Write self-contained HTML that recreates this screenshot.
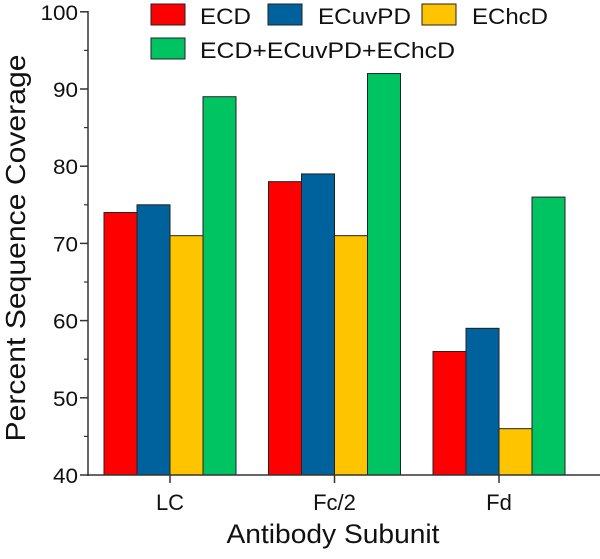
<!DOCTYPE html>
<html><head><meta charset="utf-8"><style>
body{margin:0;background:#fff;}
svg text{font-family:"Liberation Sans",sans-serif;fill:#111;}
</style></head><body>
<svg id="c" width="600" height="554"></svg>
<script>
const categories=["LC","Fc/2","Fd"];
const seriesNames=["ECD","ECuvPD","EChcD","ECD+ECuvPD+EChcD"];
const ecd=[74,78,56];
const ecuvpd=[75,79,59];
const echcd=[71,71,46];
const combined=[89,92,76];
const yTicks=[40,50,60,70,80,90,100];
const colors=["#ff0000","#00629c","#ffc400","#00c462"];
const series=[ecd,ecuvpd,echcd,combined];
const NS="http://www.w3.org/2000/svg";
const svg=document.getElementById("c");
function y(v){return 475-(v-40)*7.72;}
function xc(i){return 170+i*164.5;}
function mk(t,a,p){const e=document.createElementNS(NS,t);for(const k in a)e.setAttribute(k,a[k]);(p||svg).appendChild(e);return e;}
series.forEach((s,si)=>{s.forEach((v,ci)=>{
 const r=mk("rect",{x:xc(ci)-66+si*33,y:y(v),width:33,height:475-y(v),fill:colors[si],stroke:"#222","stroke-width":1});
 
 
});});
let ax=mk("line",{x1:88,y1:475,x2:600,y2:475,stroke:"#333","stroke-width":1.5});

ax=mk("line",{x1:88,y1:11,x2:88,y2:476,stroke:"#333","stroke-width":1.5});

yTicks.forEach((v,i)=>{
 mk("line",{x1:80,y1:y(v),x2:88,y2:y(v),stroke:"#333","stroke-width":1.5});
 if(i<yTicks.length-1)mk("line",{x1:84,y1:y(v+5),x2:88,y2:y(v+5),stroke:"#333","stroke-width":1.2});
 const s=String(v);
 const t=mk("text",{x:78,y:y(v)+8,"text-anchor":"end","font-size":21,textLength:s.length*12.5,lengthAdjust:"spacingAndGlyphs"});t.textContent=s;
 
});
categories.forEach((c,i)=>{
 mk("line",{x1:xc(i),y1:475,x2:xc(i),y2:483,stroke:"#333","stroke-width":1.5});
 const t=mk("text",{x:xc(i),y:510,"text-anchor":"middle","font-size":22});t.textContent=c;
 
});
let t=mk("text",{x:333,y:543,"text-anchor":"middle","font-size":27,textLength:213,lengthAdjust:"spacingAndGlyphs"});t.textContent="Antibody Subunit";

t=mk("text",{x:0,y:0,"text-anchor":"middle","font-size":28,textLength:387,lengthAdjust:"spacingAndGlyphs",transform:"translate(25,248) rotate(-90)"});t.textContent="Percent Sequence Coverage";

const leg=[[151,4],[268,4],[422,4],[151,38]];
const tx=[200,318,472,200];
const tl=[51,93,76,255];
seriesNames.forEach((n,i)=>{
 const g=mk("g",{});
 
 mk("rect",{x:leg[i][0],y:leg[i][1],width:34,height:21,fill:colors[i],stroke:"#222","stroke-width":1},g);
 const tt=mk("text",{x:tx[i],y:leg[i][1]+20,"font-size":22,textLength:tl[i],lengthAdjust:"spacingAndGlyphs"},g);tt.textContent=n;
});
</script>
</body></html>
